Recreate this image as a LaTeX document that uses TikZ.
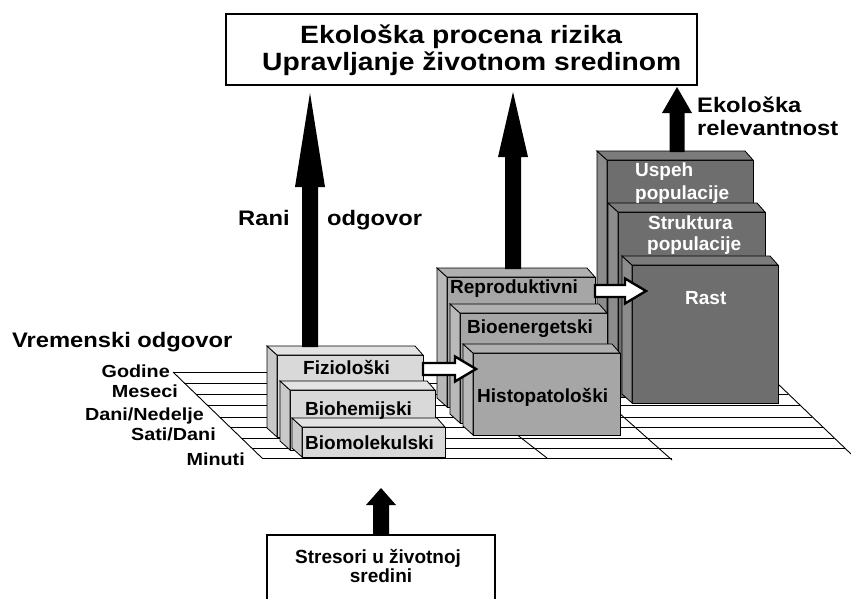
\documentclass[tikz,border=0pt]{standalone}
\usepackage{fontspec}
\setmainfont{Liberation Sans}
\newfontfamily\wf{Liberation Sans}[FakeStretch=1.13]
\usetikzlibrary{calc}
\definecolor{gAf}{HTML}{D9D9D9}
\definecolor{gAs}{HTML}{C9C9C9}
\definecolor{gAt}{HTML}{E3E3E3}
\definecolor{gBf}{HTML}{A6A6A6}
\definecolor{gBs}{HTML}{B9B9B9}
\definecolor{gBt}{HTML}{B0B0B0}
\definecolor{gCf}{HTML}{6E6E6E}
\definecolor{gCs}{HTML}{8C8C8C}
\definecolor{gCt}{HTML}{7C7C7C}
\newcommand\cube[8]{%
 \node[facebox, fill=#6, minimum width=#4, minimum height=#5] (#1) at (#2,#3) {};
 \filldraw[fill=#7, line width=0.8pt] (#1.north west) -- ++(-10,-9) -- ($(#1.south west)+(-10,-9)$) -- (#1.south west) -- cycle;
 \filldraw[fill=#8, line width=0.8pt] (#1.north west) -- ++(-10,-9) -- ($(#1.north east)+(-8,-9)$) -- (#1.north east) -- cycle;
}
\newcommand\upblock[5]{\fill[black] ($(#1)+(-#4,0)$) -- ($(#2)+(-#4,#3)$) -- ($(#2)+(-#5,#3)$) -- (#2) -- ($(#2)+(#5,#3)$) -- ($(#2)+(#4,#3)$) -- ($(#1)+(#4,0)$) -- cycle;}
\newcommand\rblock[5]{\filldraw[wharrow] ($(#1)+(0,-#4)$) -- ($(#2)+(-#3,-#4)$) -- ($(#2)+(-#3,-#5)$) -- (#2) -- ($(#2)+(-#3,#5)$) -- ($(#2)+(-#3,#4)$) -- ($(#1)+(0,#4)$) -- cycle;}
\begin{document}
\begin{tikzpicture}[x=1pt,y=-1pt,
  facebox/.style={draw=black, line width=0.8pt, inner sep=0pt, outer sep=0pt, anchor=north west},
  lab/.style={inner sep=0pt, anchor=base west, font=\fontsize{19}{22}\selectfont\bfseries},
  wlab/.style={lab, text=white},
  big/.style={inner sep=0pt, anchor=base west, font=\wf\fontsize{21}{24}\selectfont\bfseries},
  ttl/.style={inner sep=0pt, anchor=base west, font=\wf\fontsize{25}{28}\selectfont\bfseries},
  tick/.style={inner sep=0pt, anchor=base east, font=\wf\fontsize{17.5}{20}\selectfont\bfseries},
  floor/.style={line width=0.9pt},
  wharrow/.style={fill=white, draw=black, line width=2.4pt, line join=miter},
  frame/.style={draw=black, line width=2.5pt, fill=white, inner sep=0pt, outer sep=0pt, anchor=north west}]
\fill[white] (0,0) rectangle (851,598);
\useasboundingbox (0,0) rectangle (851,598);
% floor grid
\foreach \yy in {372,383,394,405,417,427,438,448}
  \draw[floor] ({173+(\yy-372)*1.04},\yy) -- ({777+(\yy-383)*1.04},\yy);
\draw[floor] (262,458) -- (672,458);
\draw[floor] (173,372) -- (262,458);
\draw[floor] (777,383) -- (851,454);
\draw[floor] (610,405) -- (672,460);
\draw[floor] (507,427) -- (547,458);
% group 3
\cube{uspeh}{607}{160}{146}{230}{gCf}{gCs}{gCt}
\cube{strukt}{618}{212}{147}{185}{gCf}{gCs}{gCt}
\cube{rast}{632}{265}{146}{138}{gCf}{gCs}{gCt}
% group 2
\cube{repro}{447}{277}{148}{130}{gBf}{gBs}{gBt}
\cube{bioen}{460}{313}{147}{110}{gBf}{gBs}{gBt}
\cube{histo}{473}{353}{147}{82}{gBf}{gBs}{gBt}
% group 1
\cube{fiz}{277}{355}{146}{82}{gAf}{gAs}{gAt}
\cube{bioh}{290}{390}{145}{60}{gAf}{gAs}{gAt}
\cube{biom}{302}{427}{143}{30}{gAf}{gAs}{gAt}
% labels in boxes
\node[lab] (lfiz) at (303,374) {Fiziološki};
\node[lab] (lbioh) at (305,415) {Biohemijski};
\node[lab] (lbiom) at (305,449) {Biomolekulski};
\node[lab] (lrepro) at (450,293) {Reproduktivni};
\node[lab] (lbioen) at (467,333) {Bioenergetski};
\node[lab] (lhisto) at (477,402) {Histopatološki};
\node[wlab] (lusp1) at (635,176) {Uspeh};
\node[wlab] (lusp2) at (635,199) {populacije};
\node[wlab] (lstr1) at (648,229) {Struktura};
\node[wlab] (lstr2) at (647,250) {populacije};
\node[wlab] (lrast) at (685,304) {Rast};
% title box
\node[frame, minimum width=471, minimum height=71] (title) at (226,14) {};
\node[ttl] (t1a) at (300,43) {Ekološka procena rizika};
\node[ttl] (t1b) at (262,70) {Upravljanje životnom sredinom};
% stressor box
\node[frame, minimum width=228, minimum height=80] (stres) at (267,535) {};
\node[lab] (ls1) at (295,563) {Stresori u životnoj};
\node[lab, anchor=base] (ls2) at (381,582) {sredini};
% up arrows
\coordinate (tip1) at (310,93);
\coordinate (tip2) at (513,92);
\coordinate (tip3) at (677,87);
\coordinate (b1) at ($(tip1 |- fiz.north)+(0,-8)$);
\coordinate (b2) at ($(tip2 |- repro.north)+(0,-8)$);
\coordinate (b3) at ($(tip3 |- uspeh.north)+(0,-8)$);
\upblock{b1}{tip1}{94}{8}{15}
\upblock{b2}{tip2}{65}{8}{15}
\upblock{b3}{tip3}{26}{7.5}{15}
\coordinate (tip4) at ($(stres.north)+(0,-47)$);
\upblock{stres.north}{tip4}{17}{8}{15}
% white arrows
\coordinate (w1s) at ($(fiz.north east)+(0,14)$);
\coordinate (w1e) at ($(histo.west |- w1s)+(3,0)$);
\coordinate (w2s) at ($(repro.north east)+(0,14)$);
\coordinate (w2e) at ($(rast.west |- w2s)+(14,0)$);
\rblock{w1s}{w1e}{21}{6}{12.5}
\rblock{w2s}{w2e}{21}{6}{12.5}
% side labels
\node[big] (eko1) at (697,112) {Ekološka};
\node[big] (eko2) at (697,135) {relevantnost};
\node[big] (rani) at (238,225) {Rani};
\node[big] (odg) at (327,225) {odgovor};
\node[big] (vrem) at (12,347) {Vremenski odgovor};
\node[tick] (god) at (170,377) {Godine};
\node[tick] (mes) at (178,397) {Meseci};
\node[tick] (dan) at (204,420) {Dani/Nedelje};
\node[tick] (sat) at (216,440) {Sati/Dani};
\node[tick] (min) at (245,465) {Minuti};
\end{tikzpicture}
\end{document}
